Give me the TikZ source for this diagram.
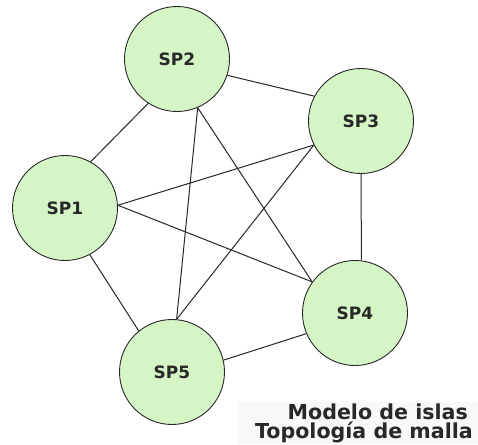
\documentclass[tikz,border=0pt]{standalone}
\usepackage{fontspec}
\setmainfont{DejaVu Sans}
\definecolor{islandgreen}{RGB}{214,245,199}
\definecolor{captionbg}{RGB}{248,248,248}
\definecolor{inkgray}{RGB}{40,40,40}
\begin{document}
\begin{tikzpicture}[x=1pt,y=-1pt,
  island/.style={circle, draw=inkgray, line width=0.9pt, fill=islandgreen,
    minimum size=105pt, inner sep=0pt,
    font=\fontsize{17}{20}\selectfont\bfseries, text=inkgray},
  link/.style={line width=1pt, draw=inkgray},
  caption/.style={font=\fontsize{20.6}{22}\selectfont\bfseries, text=inkgray, inner sep=0pt}]
\useasboundingbox (0,0) rectangle (478,444);
\fill[white] (0,0) rectangle (478,444);
\fill[captionbg] (238,402) rectangle (478,444);

% islands
\node[island] (sp1) at (65,208) {SP1};
\node[island] (sp2) at (177,59) {SP2};
\node[island] (sp3) at (361,121) {SP3};
\node[island] (sp4) at (355,313) {SP4};
\node[island] (sp5) at (172,372) {SP5};

% full mesh of links
\draw[link] (sp1.61) -- (sp2.237);
\draw[link] (sp2.-18) -- (sp3.152);
\draw[link] (sp1.3) -- (sp3.207);
\draw[link] (sp1.3) -- (sp4.144);
\draw[link] (sp1.-62) -- (sp5.129);
\draw[link] (sp2.-67) -- (sp5.85);
\draw[link] (sp2.-67) -- (sp4.144);
\draw[link] (sp3.-90) -- (sp4.83);
\draw[link] (sp3.207) -- (sp5.85);
\draw[link] (sp5.13) -- (sp4.203);

% caption
\node[caption, anchor=base east] (cap1) at (468,419) {Modelo de islas};
\node[caption, anchor=base east] (cap2) at (473,438) {Topología de malla};
\end{tikzpicture}
\end{document}
